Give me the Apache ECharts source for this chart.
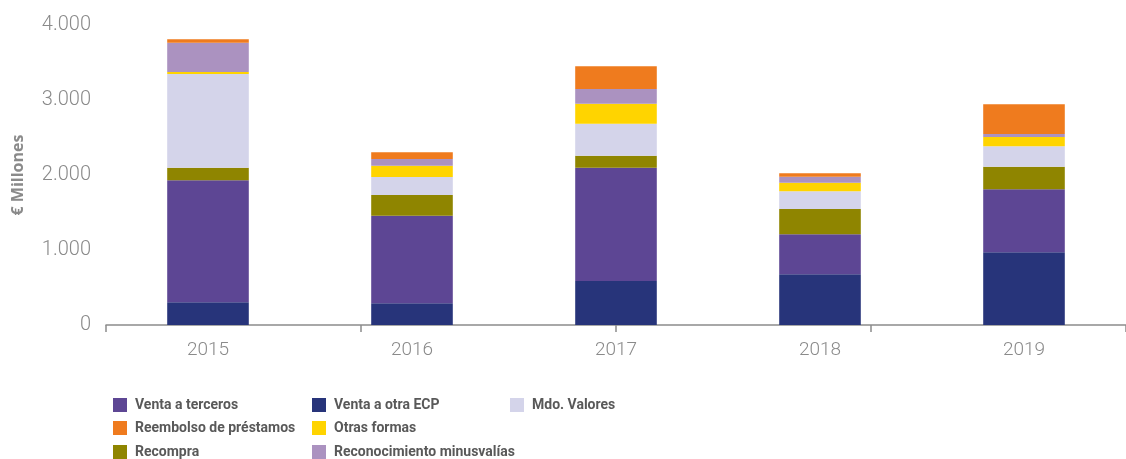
<!DOCTYPE html>
<html lang="es">
  <head>
    <meta charset="UTF-8" />
    <title>Formas de desinversión</title>
    <script src="https://cdn.jsdelivr.net/npm/echarts@6/dist/echarts.min.js"></script>
    <style>
      html, body { margin: 0; padding: 0; background: #fff; }
      #main { width: 1126px; height: 459px; }
    </style>
  </head>
  <body>
    <div id="main"></div>
    <script>
      // data (€ millones)
      const years = ['2015', '2016', '2017', '2018', '2019'];
      const ventaOtraECP = [303, 289, 587, 676, 969];
      const ventaTerceros = [1626, 1169, 1511, 533, 840];
      const recompra = [169, 275, 160, 338, 302];
      const mdoValores = [1249, 240, 426, 235, 271];
      const otrasFormas = [26, 151, 267, 116, 125];
      const reconocimiento = [391, 89, 196, 80, 40];
      const reembolso = [45, 89, 302, 44, 395];
      const yTicks = [0, 1000, 2000, 3000, 4000];

      const greyText = '#8a8a8a';

      function fmt(v) {
        return String(v).replace(/\B(?=(\d{3})+(?!\d))/g, '.');
      }

      function bar(name, data, color) {
        return {
          name: name,
          type: 'bar',
          stack: 'total',
          data: data,
          barWidth: '40%',
          itemStyle: { color: color },
          emphasis: { disabled: true }
        };
      }

      // legend laid out in three columns, one small legend per entry
      const legendCols = [113, 312, 510];
      const legendRows = [398, 421, 445];
      function legendItem(col, row, name) {
        return {
          left: legendCols[col],
          top: legendRows[row],
          padding: 0,
          itemWidth: 14,
          itemHeight: 14,
          icon: 'rect',
          data: [name],
          selectedMode: false,
          textStyle: {
            fontFamily: 'Roboto',
            fontWeight: 'bold',
            fontSize: 14,
            color: '#595959',
            padding: [0, 0, 0, 3]
          }
        };
      }

      const chart = echarts.init(document.getElementById('main'));
      chart.setOption({
        animation: false,
        grid: { left: 106, right: -10, top: 25, bottom: 134 },
        legend: [
          legendItem(0, 0, 'Venta a terceros'),
          legendItem(0, 1, 'Reembolso de préstamos'),
          legendItem(0, 2, 'Recompra'),
          legendItem(1, 0, 'Venta a otra ECP'),
          legendItem(1, 1, 'Otras formas'),
          legendItem(1, 2, 'Reconocimiento minusvalías'),
          legendItem(2, 0, 'Mdo. Valores')
        ],
        xAxis: [
          {
            type: 'category',
            data: years,
            axisLine: { lineStyle: { color: '#8c8c8c', width: 1.5 } },
            axisTick: { show: false },
            axisLabel: {
              color: greyText,
              fontFamily: 'Roboto',
              fontWeight: 300,
              fontSize: 19,
              margin: 16
            }
          },
          {
            type: 'category',
            position: 'bottom',
            data: ['', '', '', ''],
            axisLine: { show: false },
            axisTick: { show: true, length: 7, lineStyle: { color: '#8c8c8c', width: 1.5 } },
            axisLabel: { show: false }
          }
        ],
        yAxis: {
          type: 'value',
          min: yTicks[0],
          max: yTicks[yTicks.length - 1],
          interval: 1000,
          name: '€ Millones',
          nameLocation: 'middle',
          nameGap: 80,
          nameTextStyle: {
            color: greyText,
            fontFamily: 'Open Sans',
            fontWeight: 'bold',
            fontSize: 16
          },
          axisLine: { show: false },
          axisTick: { show: false },
          splitLine: { show: false },
          axisLabel: {
            color: greyText,
            fontFamily: 'Roboto',
            fontWeight: 300,
            fontSize: 20,
            margin: 15,
            formatter: fmt
          }
        },
        series: [
          bar('Venta a otra ECP', ventaOtraECP, '#27347a'),
          bar('Venta a terceros', ventaTerceros, '#5d4694'),
          bar('Recompra', recompra, '#8f8500'),
          bar('Mdo. Valores', mdoValores, '#d4d4ea'),
          bar('Otras formas', otrasFormas, '#ffd400'),
          bar('Reconocimiento minusvalías', reconocimiento, '#ab92c0'),
          bar('Reembolso de préstamos', reembolso, '#ef7b1e')
        ]
      });
    </script>
  </body>
</html>
